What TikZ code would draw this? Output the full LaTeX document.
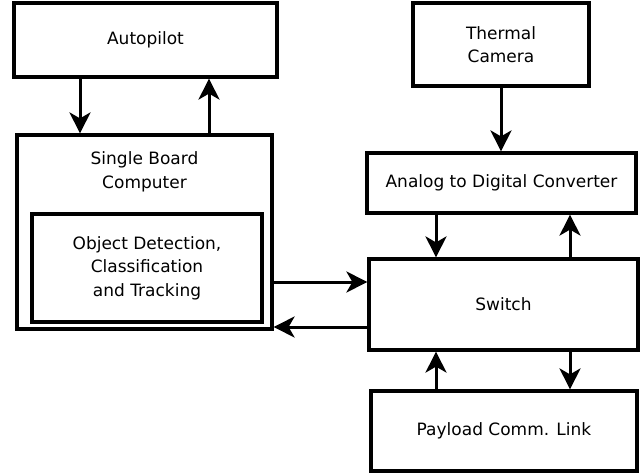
\documentclass[tikz,border=0pt]{standalone}
\usepackage{fontspec}
\setmainfont{DejaVu Sans}
\usetikzlibrary{arrows.meta}
\begin{document}
\begin{tikzpicture}[x=1pt,y=-1pt,
  box/.style={draw=black, line width=3.2pt, inner sep=0pt, fill=white, align=center,
    font=\fontsize{17}{23.5}\selectfont},
  txt/.style={inner sep=0pt, align=center, font=\fontsize{17}{23.5}\selectfont},
  arr/.style={line width=3pt, -{Stealth[length=21pt,width=21pt,inset=6pt]}}]
\useasboundingbox (0,0) rectangle (643,474);
\node[box, minimum width=263pt, minimum height=74pt] (auto) at (145.5,40) {Autopilot};
\node[box, minimum width=255pt, minimum height=194pt] (sbc) at (144.5,232) {};
\node[txt] (sbclabel) at (144.5,172) {Single Board\\Computer};
\node[box, minimum width=230pt, minimum height=108pt] (odc) at (147,268) {Object Detection,\\Classification\\and Tracking};
\node[box, minimum width=176pt, minimum height=83pt] (therm) at (501,44.5) {Thermal\\Camera};
\node[box, minimum width=269pt, minimum height=60pt] (adc) at (501.5,183) {Analog to Digital Converter};
\node[box, minimum width=269pt, minimum height=91pt] (sw) at (503.5,304.5) {Switch};
\node[box, minimum width=266pt, minimum height=80pt] (pay) at (504,431) {Payload Comm. Link};
\coordinate (a1) at (80,0);
\coordinate (a2) at (209,0);
\coordinate (a3) at (436,0);
\coordinate (a4) at (570,0);
\coordinate (h1) at (0,282);
\coordinate (h2) at (0,327);
\draw[arr] (auto.south -| a1) -- (sbc.north -| a1);
\draw[arr] (sbc.north -| a2) -- (auto.south -| a2);
\draw[arr] (therm.south) -- (adc.north -| therm.south);
\draw[arr] (adc.south -| a3) -- (sw.north -| a3);
\draw[arr] (sw.north -| a4) -- (adc.south -| a4);
\draw[arr] (pay.north -| a3) -- (sw.south -| a3);
\draw[arr] (sw.south -| a4) -- (pay.north -| a4);
\draw[arr] (sbc.east |- h1) -- (sw.west |- h1);
\draw[arr] (sw.west |- h2) -- (sbc.east |- h2);
\end{tikzpicture}
\end{document}
